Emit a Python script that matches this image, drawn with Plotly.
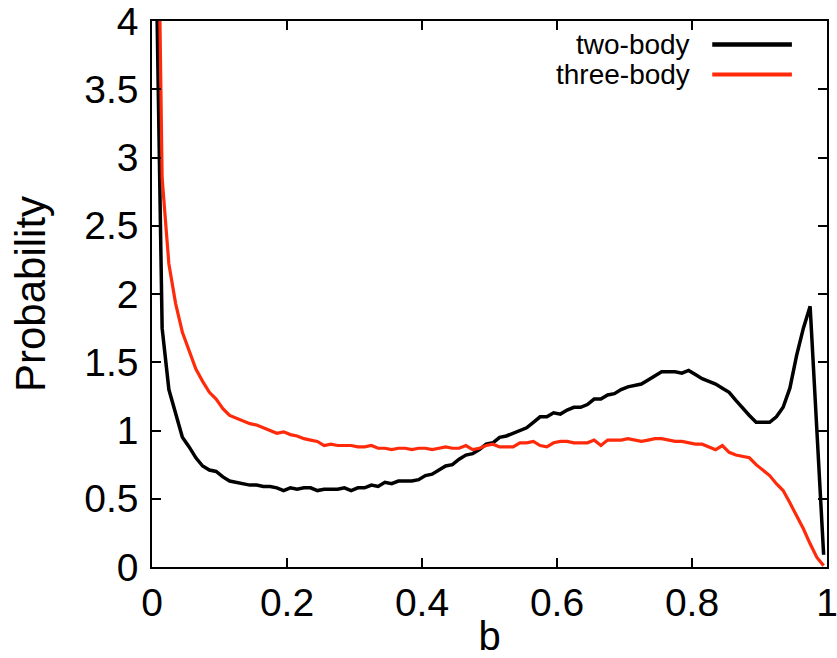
import numpy as np
import plotly.graph_objects as go

# bin centres of the impact-parameter histogram
b = [round(0.005 + 0.01 * i, 3) for i in range(100)]

two_body = [
    4.80, 1.75, 1.30, 1.12, 0.95, 0.88, 0.80, 0.74, 0.71, 0.70,
    0.66, 0.63, 0.62, 0.61, 0.60, 0.60, 0.59, 0.59, 0.58, 0.56,
    0.58, 0.57, 0.58, 0.58, 0.56, 0.57, 0.57, 0.57, 0.58, 0.56,
    0.58, 0.58, 0.60, 0.59, 0.62, 0.61, 0.63, 0.63, 0.63, 0.64,
    0.67, 0.68, 0.71, 0.74, 0.75, 0.79, 0.82, 0.83, 0.86, 0.90,
    0.91, 0.95, 0.96, 0.98, 1.00, 1.02, 1.06, 1.10, 1.10, 1.13,
    1.12, 1.15, 1.17, 1.17, 1.19, 1.23, 1.23, 1.26, 1.27, 1.30,
    1.32, 1.33, 1.34, 1.37, 1.40, 1.43, 1.43, 1.43, 1.42, 1.44,
    1.41, 1.38, 1.36, 1.34, 1.31, 1.28, 1.22, 1.16, 1.11, 1.06,
    1.06, 1.06, 1.10, 1.17, 1.31, 1.55, 1.75, 1.91, 1.00, 0.09,
]

three_body = [
    6.40, 2.85, 2.22, 1.93, 1.72, 1.58, 1.45, 1.36, 1.28, 1.23,
    1.16, 1.11, 1.09, 1.07, 1.05, 1.04, 1.02, 1.00, 0.98, 0.99,
    0.97, 0.96, 0.94, 0.93, 0.92, 0.89, 0.90, 0.89, 0.89, 0.89,
    0.88, 0.88, 0.89, 0.87, 0.87, 0.86, 0.87, 0.87, 0.86, 0.87,
    0.87, 0.86, 0.87, 0.88, 0.87, 0.87, 0.89, 0.86, 0.87, 0.89,
    0.90, 0.88, 0.88, 0.88, 0.91, 0.91, 0.92, 0.89, 0.88, 0.91,
    0.92, 0.92, 0.91, 0.91, 0.91, 0.93, 0.89, 0.93, 0.93, 0.93,
    0.94, 0.93, 0.92, 0.93, 0.94, 0.94, 0.93, 0.92, 0.92, 0.91,
    0.90, 0.90, 0.88, 0.86, 0.89, 0.84, 0.82, 0.81, 0.80, 0.75,
    0.71, 0.67, 0.61, 0.56, 0.47, 0.38, 0.28, 0.17, 0.07, 0.01,
]

x_ticks = [0, 0.2, 0.4, 0.6, 0.8, 1]
x_labels = ["0", "0.2", "0.4", "0.6", "0.8", "1"]
y_ticks = [0, 0.5, 1, 1.5, 2, 2.5, 3, 3.5, 4]
y_labels = ["0", "0.5", "1", "1.5", "2", "2.5", "3", "3.5", "4"]

series = [
    ("two-body", two_body, "#000000", 3.5),
    ("three-body", three_body, "#ff2a0a", 3.2),
]

FONT = "Liberation Sans, Arial, Helvetica, sans-serif"

fig = go.Figure()
for name, vals, color, w in series:
    fig.add_trace(go.Scatter(x=b, y=vals, mode="lines", name=name,
                             line=dict(color=color, width=w),
                             showlegend=False))

# gnuplot-style key: label text on the left, line sample on the right
key_rows = [0.957, 0.902]
for (name, _, color, w), yk in zip(series, key_rows):
    fig.add_annotation(x=0.800, y=yk, xref="paper", yref="paper",
                       text=name, showarrow=False, xanchor="right",
                       yanchor="middle",
                       font=dict(family=FONT, size=28, color="black"))
    fig.add_shape(type="line", xref="paper", yref="paper",
                  x0=0.830, x1=0.948, y0=yk, y1=yk,
                  line=dict(color=color, width=w + 1))

axis_common = dict(
    showline=True, linecolor="black", linewidth=1.5, mirror="ticks",
    ticks="inside", ticklen=9, tickwidth=1.5, tickcolor="black",
    showgrid=False, zeroline=False, automargin=False,
    ticklabeloverflow="allow",
    tickfont=dict(family=FONT, size=39, color="black"),
)

fig.update_layout(
    width=837, height=658,
    margin=dict(l=152, r=10, t=21, b=91),
    paper_bgcolor="white", plot_bgcolor="white",
    xaxis=dict(range=[0, 1], tickvals=x_ticks, ticktext=x_labels,
               title=dict(text="b", font=dict(family=FONT, size=40, color="black"),
                          standoff=6),
               **axis_common),
    yaxis=dict(range=[0, 4], tickvals=y_ticks, ticktext=y_labels,
               ticklabelstandoff=4,
               title=dict(text="Probability",
                          font=dict(family=FONT, size=42, color="black"),
                          standoff=26),
               **axis_common),
)

fig.write_html("out.html")
